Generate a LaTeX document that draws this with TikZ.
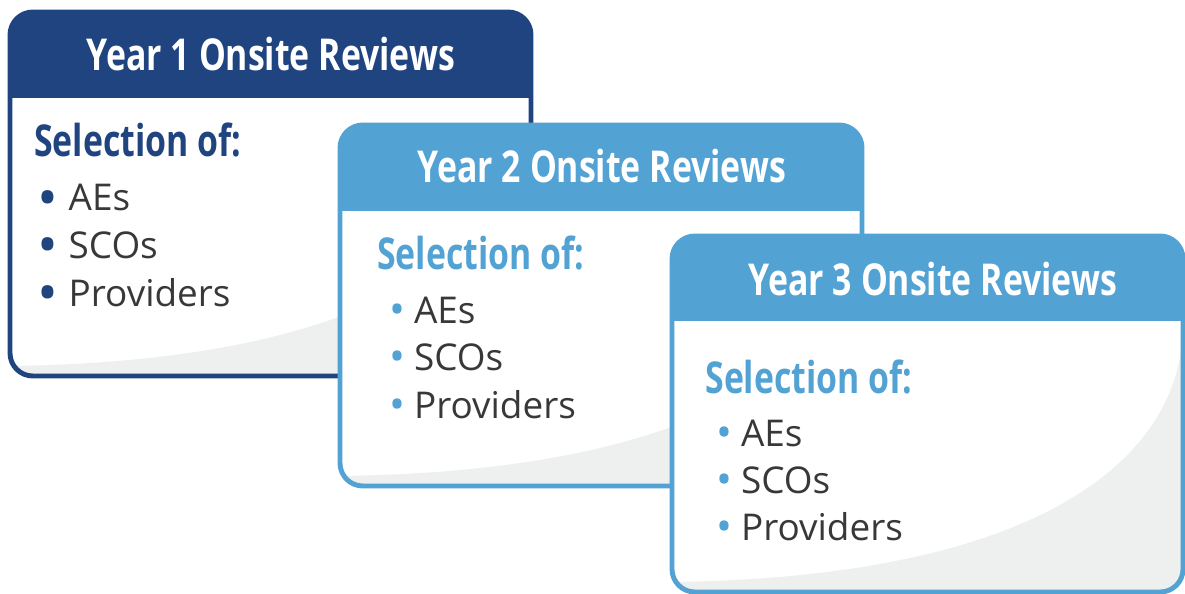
\documentclass[tikz,border=0pt]{standalone}
\usepackage{fontspec}
\setmainfont{Open Sans}
\newfontfamily\headfont[FakeStretch=0.77]{Open Sans}
\usetikzlibrary{positioning}
\definecolor{darkblue}{HTML}{1F4480}
\definecolor{lightblue}{HTML}{52A2D4}
\definecolor{swoosh}{HTML}{EEEFEF}
\definecolor{textgray}{HTML}{383838}
\newcommand{\bigdot}[1]{\textcolor{#1}{\smash{\raisebox{-3.5pt}{\scalebox{1.5}{•}}}}}
\newcommand{\smalldot}[1]{\textcolor{#1}{\smash{\raisebox{-1pt}{\scalebox{1.15}{•}}}}}

\begin{document}
\begin{tikzpicture}
[x=0.02cm, y=-0.02cm,
% The card style is used for the frame of each year
card/.style={line width=2.8pt, rounded corners=13pt},
% The head style is used to write the year in the header
head/.style={anchor=base, inner sep=0pt, text=white, font=\headfont\bfseries\fontsize{25}{29}\selectfont},
% The sel style is used for the title inside each card
sel/.style={anchor=base west, inner sep=0pt, font=\headfont\bfseries\fontsize{25}{29}\selectfont},
% The item style is used for the listed entries
item/.style={anchor=base west, inner sep=0pt, text=textgray, font=\fontsize{21}{25}\selectfont}
]
\useasboundingbox (0,0) rectangle (1185,594);
% Year 1
\begin{scope}
\clip[rounded corners=13pt] (10,12) rectangle (531,376);
\fill[white] (10,12) rectangle (531,376);
\fill[swoosh] (10,366) .. controls (401,361) and (531,230) .. (531,103) -- (531,376) -- (10,376) -- cycle;
\fill[darkblue] (10,12) rectangle (531,98);
\end{scope}
\draw[card, darkblue] (10,12) rectangle (531,376);
\node[head] (head1) at (271,71) {Year 1 Onsite Reviews};
\node[sel, text=darkblue] (sel1) at (34,157) {Selection of:};
\node[item] (ae1) at (37,211) {\bigdot{darkblue}\hspace{6pt}AEs};
\node[item] (sco1) at (37,258) {\bigdot{darkblue}\hspace{6pt}SCOs};
\node[item] (prov1) at (37,306) {\bigdot{darkblue}\hspace{6pt}Providers};
% Year 2
\begin{scope}
\clip[rounded corners=13pt] (340,125) rectangle (862,486);
\fill[white] (340,125) rectangle (862,486);
\fill[swoosh] (340,476) .. controls (732,471) and (862,342) .. (862,215) -- (862,486) -- (340,486) -- cycle;
\fill[lightblue] (340,125) rectangle (862,211);
\end{scope}
\draw[card, lightblue] (340,125) rectangle (862,486);
\node[head] (head2) at (602,183) {Year 2 Onsite Reviews};
\node[sel, text=lightblue] (sel2) at (377,270) {Selection of:};
\node[item] (ae2) at (389,323) {\smalldot{lightblue}\hspace{5pt}AEs};
\node[item] (sco2) at (389,370) {\smalldot{lightblue}\hspace{5pt}SCOs};
\node[item] (prov2) at (389,418) {\smalldot{lightblue}\hspace{5pt}Providers};
% Year 3
\begin{scope}
\clip[rounded corners=13pt] (672,236) rectangle (1183,592);
\fill[white] (672,236) rectangle (1183,592);
\fill[swoosh] (672,582) .. controls (1055,577) and (1183,450) .. (1183,325) -- (1183,592) -- (672,592) -- cycle;
\fill[lightblue] (672,236) rectangle (1183,321);
\end{scope}
\draw[card, lightblue] (672,236) rectangle (1183,592);
\node[head] (head3) at (933,296) {Year 3 Onsite Reviews};
\node[sel, text=lightblue] (sel3) at (705,393) {Selection of:};
\node[item] (ae3) at (716,446) {\smalldot{lightblue}\hspace{5pt}AEs};
\node[item] (sco3) at (716,493) {\smalldot{lightblue}\hspace{5pt}SCOs};
\node[item] (prov3) at (716,540) {\smalldot{lightblue}\hspace{5pt}Providers};
\end{tikzpicture}
\end{document}
